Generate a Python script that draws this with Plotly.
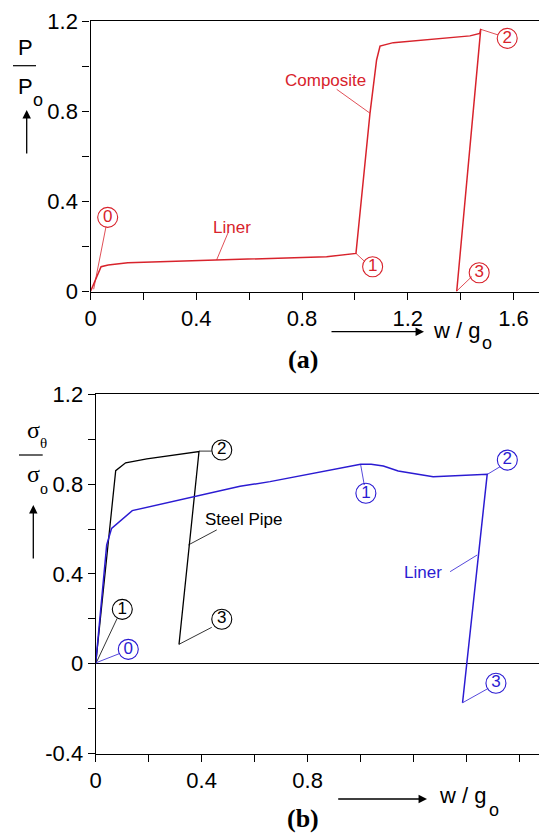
import plotly.graph_objects as go

# page body has an 8px margin, so the figure is 8px smaller and all pixel positions shift by 8
OFF = 8
W, H = 547 - OFF, 835 - OFF

# ---------------- data ----------------
# (a) load-displacement of composite (liner then composite)
comp_x = [0.0, 0.040, 0.067, 0.141, 0.893, 1.004, 1.057, 1.082, 1.095, 1.145, 1.435, 1.472, 1.476, 1.385]
comp_y = [0.0, 0.110, 0.118, 0.128, 0.154, 0.169, 0.790, 1.027, 1.089, 1.104, 1.134, 1.145, 1.165, 0.0]

# (b) hoop stress of steel pipe and liner
steel_x = [0.0, 0.0755, 0.113, 0.193, 0.390, 0.3145]
steel_y = [0.0, 0.860, 0.895, 0.912, 0.945, 0.086]
liner_x = [0.0, 0.0415, 0.060, 0.138, 0.545, 0.658, 1.000, 1.040, 1.086, 1.142, 1.274, 1.478, 1.385]
liner_y = [0.0, 0.529, 0.603, 0.682, 0.790, 0.811, 0.888, 0.888, 0.881, 0.858, 0.833, 0.844, -0.174]

# circled state markers
a_lab_x = [0.065, 1.067, 1.576, 1.470]
a_lab_y = [0.329, 0.110, 1.123, 0.083]
a_lab_t = ["0", "1", "2", "3"]
bs_lab_x = [0.1004, 0.476, 0.476]
bs_lab_y = [0.242, 0.952, 0.198]
bs_lab_t = ["1", "2", "3"]
bl_lab_x = [0.123, 1.020, 1.554, 1.511]
bl_lab_y = [0.064, 0.759, 0.907, -0.087]
bl_lab_t = ["0", "1", "2", "3"]

# ticks
x_tickvals = [0, 0.2, 0.4, 0.6, 0.8, 1.0, 1.2, 1.4, 1.6]
xa_ticktext = ["0", "", "0.4", "", "0.8", "", "1.2", "", "1.6"]
xb_ticktext = ["0", "", "0.4", "", "0.8", "", "", "", ""]
ya_tickvals = [0, 0.2, 0.4, 0.6, 0.8, 1.0, 1.2]
ya_ticktext = ["0", "", "0.4", "", "0.8", "", "1.2"]
yb_tickvals = [-0.4, -0.2, 0, 0.2, 0.4, 0.6, 0.8, 1.0, 1.2]
yb_ticktext = ["-0.4", "", "0", "", "0.4", "", "0.8", "", "1.2"]

RED = "#d8232c"
BLUE = "#2b1bd2"
BLACK = "#000000"
SANS = "Liberation Sans, Arial, sans-serif"
SERIF = "Liberation Serif, Times New Roman, serif"

def px(x):
    return (x - OFF) / W

def py(y):
    return 1 - (y - OFF) / H

fig = go.Figure()

fig.add_trace(go.Scatter(x=comp_x, y=comp_y, mode="lines", line=dict(color=RED, width=1.5),
                         xaxis="x", yaxis="y", showlegend=False))
fig.add_trace(go.Scatter(x=steel_x, y=steel_y, mode="lines", line=dict(color=BLACK, width=1.3),
                         xaxis="x2", yaxis="y2", showlegend=False))
fig.add_trace(go.Scatter(x=liner_x, y=liner_y, mode="lines", line=dict(color=BLUE, width=1.5),
                         xaxis="x2", yaxis="y2", showlegend=False))

def circ(xs, ys, ts, color, xa, ya):
    fig.add_trace(go.Scatter(x=xs, y=ys, text=ts, mode="markers+text", textposition="middle center",
                             marker=dict(symbol="circle-open", size=20, color=color, line=dict(width=1.1)),
                             textfont=dict(family=SANS, size=17, color=color),
                             xaxis=xa, yaxis=ya, showlegend=False, hoverinfo="skip"))

circ(a_lab_x, a_lab_y, a_lab_t, RED, "x", "y")
circ(bs_lab_x, bs_lab_y, bs_lab_t, BLACK, "x2", "y2")
circ(bl_lab_x, bl_lab_y, bl_lab_t, BLUE, "x2", "y2")

shapes = []
def leader(x0, y0, x1, y1, color, xr, yr):
    shapes.append(dict(type="line", x0=x0, y0=y0, x1=x1, y1=y1, xref=xr, yref=yr,
                       line=dict(color=color, width=0.8)))

# (a) leaders
leader(0.0586, 0.2875, 0.012, 0.01, RED, "x", "y")
leader(0.52, 0.26, 0.477, 0.14, RED, "x", "y")
leader(0.931, 0.897, 1.057, 0.791, RED, "x", "y")
leader(1.004, 0.169, 1.038, 0.132, RED, "x", "y")
leader(1.476, 1.163, 1.542, 1.138, RED, "x", "y")
leader(1.385, 0.002, 1.442, 0.066, RED, "x", "y")
# (b) leaders
leader(0.081, 0.202, 0.004, 0.009, BLACK, "x2", "y2")
leader(0.092, 0.046, 0.001, 0.004, BLUE, "x2", "y2")
leader(0.39, 0.947, 0.438, 0.947, BLACK, "x2", "y2")
leader(0.457, 0.596, 0.35, 0.529, BLACK, "x2", "y2")
leader(0.438, 0.162, 0.314, 0.086, BLACK, "x2", "y2")
leader(1.014, 0.796, 1.0, 0.888, BLUE, "x2", "y2")
leader(1.526, 0.877, 1.478, 0.843, BLUE, "x2", "y2")
leader(1.338, 0.41, 1.44, 0.484, BLUE, "x2", "y2")
leader(1.482, -0.11, 1.385, -0.174, BLUE, "x2", "y2")

# fraction bars of y labels
shapes.append(dict(type="line", xref="paper", yref="paper", x0=px(13), x1=px(36), y0=py(65.7), y1=py(65.7),
                   line=dict(color=BLACK, width=1.2)))
shapes.append(dict(type="line", xref="paper", yref="paper", x0=px(19), x1=px(42.7), y0=py(455), y1=py(455),
                   line=dict(color=BLACK, width=1.2)))

ann = []
def txt(x, y, s, size, color=BLACK, family=SANS, xr="paper", yr="paper", **kw):
    ann.append(dict(x=x, y=y, xref=xr, yref=yr, text=s, showarrow=False,
                    font=dict(family=family, size=size, color=color),
                    xanchor="center", yanchor="middle", **kw))

def arrow(x0, y0, x1, y1):
    ann.append(dict(x=px(x1), y=py(y1), xref="paper", yref="paper", ax=x0 - x1, ay=y0 - y1,
                    axref="pixel", ayref="pixel", text="", showarrow=True, arrowhead=2,
                    arrowsize=1.3, arrowwidth=1.3, arrowcolor=BLACK))

# curve labels
txt(0.534, 0.283, "Liner", 17, RED, xr="x", yr="y")
txt(0.89, 0.938, "Composite", 17, RED, xr="x", yr="y")
txt(0.558, 0.643, "Steel Pipe", 17, BLACK, xr="x2", yr="y2")
txt(1.237, 0.408, "Liner", 17, BLUE, xr="x2", yr="y2")

# (a) axis labels
txt(px(25), py(47), "P", 22)
txt(px(25), py(87), "P", 22)
txt(px(37.5), py(100), "o", 18)
arrow(26.7, 155, 26.7, 110)
txt(px(456.7), py(331), "w / g", 22)
txt(px(487), py(343), "o", 18)
arrow(330, 331.7, 424, 331.7)
txt(px(302.5), py(359), "<b>(a)</b>", 26, family=SERIF)

# (b) axis labels
txt(px(33.3), py(430), "σ", 24, family=SERIF)
txt(px(43.5), py(443), "θ", 15, family=SERIF)
txt(px(33.3), py(474), "σ", 24, family=SERIF)
txt(px(43.5), py(488), "o", 16, family=SERIF)
arrow(33.3, 560, 33.3, 505)
txt(px(462.5), py(795), "w / g", 22)
txt(px(493.5), py(810), "o", 18)
arrow(336.7, 799, 427, 799)
txt(px(302.5), py(818), "<b>(b)</b>", 26, family=SERIF)

axis_common = dict(showline=True, linecolor=BLACK, linewidth=1.3, mirror=True, ticks="outside",
                   ticklen=7, tickwidth=1.2, tickcolor=BLACK, showgrid=False, zeroline=False,
                   automargin=False, tickfont=dict(family=SANS, size=22, color=BLACK))

fig.update_layout(
    template="none",
    width=W, height=H, margin=dict(l=0, r=0, t=0, b=0, pad=0, autoexpand=False),
    paper_bgcolor="white", plot_bgcolor="white", showlegend=False,
    xaxis=dict(domain=[px(90.5), px(540)], range=[0, 1.7], anchor="y",
               tickvals=x_tickvals, ticktext=xa_ticktext, **axis_common),
    yaxis=dict(domain=[py(291.5), py(21)], range=[0, 1.2], anchor="x",
               tickvals=ya_tickvals, ticktext=ya_ticktext, **axis_common),
    xaxis2=dict(domain=[px(95.7), px(546)], range=[0, 1.7], anchor="y2",
                tickvals=x_tickvals, ticktext=xb_ticktext, **axis_common),
    yaxis2=dict(domain=[py(753.5), py(394.3)], range=[-0.4, 1.2], anchor="x2",
                tickvals=yb_tickvals, ticktext=yb_ticktext, **axis_common),
    shapes=shapes, annotations=ann,
)
fig.update_layout(yaxis2_zeroline=True, yaxis2_zerolinecolor=BLACK, yaxis2_zerolinewidth=1.3)

fig.write_html("out.html")
